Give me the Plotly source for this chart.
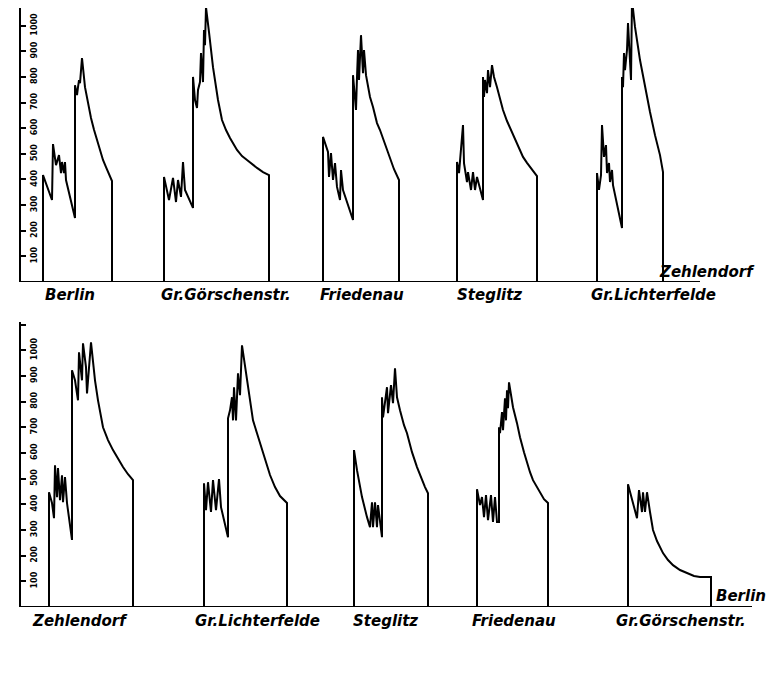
import plotly.graph_objects as go

# ---------------- data (time in arbitrary units, current in Amp.) ----------------
# Upper diagram: Berlin -> Zehlendorf
up1_t = [43, 43, 52, 53, 56, 59, 61, 62, 64, 65, 66, 75, 75, 77, 78, 79, 80, 81, 82, 85, 88, 91, 94, 97, 100, 103, 106, 109, 112, 112]
up1_a = [0, 417, 320, 538, 456, 495, 425, 468, 425, 468, 398, 250, 768, 729, 760, 788, 776, 838, 874, 760, 695, 640, 594, 554, 515, 476, 448, 420, 394, 0]

up2_t = [164, 164, 169, 173, 176, 178, 181, 183, 185, 193, 193, 195, 197, 198, 200, 201, 203, 204, 205, 206, 209, 213, 218, 222, 226, 230, 237, 242, 247, 252, 257, 263, 269, 269]
up2_a = [0, 410, 320, 406, 312, 398, 332, 468, 359, 289, 800, 710, 679, 749, 780, 893, 780, 983, 924, 1072, 975, 838, 710, 632, 593, 562, 515, 491, 476, 460, 445, 429, 417, 0]

up3_t = [323, 323, 328, 329, 331, 333, 335, 337, 340, 341, 343, 353, 353, 355, 356, 357, 358, 359, 361, 363, 364, 366, 370, 373, 377, 380, 384, 387, 390, 394, 399, 399]
up3_a = [0, 566, 507, 410, 503, 398, 464, 371, 320, 437, 359, 242, 807, 710, 671, 800, 905, 788, 963, 815, 905, 807, 722, 683, 620, 593, 550, 515, 480, 440, 398, 0]

up4_t = [457, 457, 459, 463, 464, 467, 468, 471, 473, 475, 477, 483, 483, 484, 485, 487, 488, 490, 492, 494, 497, 500, 503, 507, 510, 514, 517, 520, 523, 527, 530, 533, 537, 537]
up4_a = [0, 468, 425, 612, 464, 390, 429, 359, 429, 359, 410, 320, 800, 722, 788, 737, 827, 760, 846, 800, 760, 712, 671, 628, 601, 568, 542, 514, 488, 465, 449, 430, 413, 0]

up5_t = [597, 597, 599, 601, 602, 604, 606, 607, 609, 610, 612, 613, 622, 622, 623, 624, 625, 627, 628, 629, 631, 632, 635, 640, 645, 650, 655, 660, 663, 663]
up5_a = [0, 425, 359, 417, 612, 488, 534, 425, 464, 390, 437, 378, 211, 800, 760, 893, 827, 905, 1010, 944, 788, 1100, 995, 866, 757, 663, 573, 495, 429, 0]

# Lower diagram: Zehlendorf -> Berlin
lo1_t = [49, 49, 52, 54, 55, 57, 58, 60, 62, 63, 65, 67, 72, 72, 75, 78, 79, 82, 83, 86, 87, 91, 95, 98, 103, 108, 113, 118, 123, 128, 133, 133]
lo1_a = [0, 447, 405, 346, 552, 428, 541, 416, 513, 408, 506, 405, 261, 922, 883, 805, 992, 883, 1027, 934, 832, 1031, 883, 805, 700, 650, 611, 576, 545, 517, 494, 0]

lo2_t = [204, 204, 206, 208, 211, 213, 216, 219, 221, 228, 228, 230, 232, 233, 234, 236, 238, 240, 242, 247, 250, 253, 257, 260, 265, 270, 275, 280, 287, 287]
lo2_a = [0, 482, 377, 486, 370, 494, 377, 498, 389, 272, 735, 766, 817, 727, 856, 727, 910, 825, 1019, 883, 805, 727, 677, 638, 580, 514, 467, 432, 405, 0]

lo3_t = [354, 354, 357, 362, 367, 370, 372, 373, 375, 377, 378, 382, 382, 383, 387, 388, 391, 393, 395, 397, 400, 404, 407, 412, 417, 421, 425, 428, 428]
lo3_a = [0, 611, 533, 428, 350, 311, 408, 311, 408, 311, 397, 272, 817, 739, 856, 755, 864, 794, 930, 817, 766, 708, 677, 603, 545, 502, 467, 443, 0]

lo4_t = [477, 477, 480, 482, 484, 486, 488, 491, 493, 495, 497, 499, 499, 500, 502, 503, 505, 506, 507, 508, 509, 513, 517, 520, 524, 527, 530, 533, 537, 540, 544, 548, 548]
lo4_a = [0, 459, 397, 428, 350, 436, 338, 436, 331, 428, 331, 331, 700, 677, 759, 689, 813, 727, 844, 774, 875, 778, 716, 661, 603, 560, 525, 494, 467, 443, 420, 405, 0]

lo5_t = [628, 628, 637, 639, 642, 643, 645, 647, 650, 653, 657, 663, 668, 673, 680, 687, 694, 700, 711, 711]
lo5_a = [0, 478, 346, 455, 370, 447, 370, 447, 370, 300, 257, 210, 183, 163, 144, 132, 121, 117, 117, 0]

upper_runs = [(up1_t, up1_a), (up2_t, up2_a), (up3_t, up3_a), (up4_t, up4_a), (up5_t, up5_a)]
lower_runs = [(lo1_t, lo1_a), (lo2_t, lo2_a), (lo3_t, lo3_a), (lo4_t, lo4_a), (lo5_t, lo5_a)]

upper_stations = ["Berlin", "Gr.Görschenstr.", "Friedenau", "Steglitz", "Gr.Lichterfelde", "Zehlendorf"]
lower_stations = ["Zehlendorf", "Gr.Lichterfelde", "Steglitz", "Friedenau", "Gr.Görschenstr.", "Berlin"]

tick_values = [0, 100, 200, 300, 400, 500, 600, 700, 800, 900, 1000, 1100]
tick_labels = ["0", "100", "200", "300", "400", "500", "600", "700", "800", "900", "1000", "1100 Amp."]

# ---------------- layout helpers ----------------
# the page body has an 8px margin; figure coordinates are page coordinates minus 8
OFF = 8
W, H = 780 - OFF, 681 - OFF
def py(p):
    return 1 - (p - OFF) / H
def px(p):
    return (p - 21) / (780 - 21)

upper_label_x = [70, 226, 362, 489, 653, 707]
upper_label_y = [295, 295, 295, 295, 295, 272]
lower_label_x = [80, 258, 385, 514, 681, 741]
lower_label_y = [621, 621, 621, 621, 621, 596]

LINE = dict(color="black", width=2)
fig = go.Figure()

for t, a in upper_runs:
    fig.add_trace(go.Scatter(x=t, y=a, mode="lines", line=LINE, xaxis="x", yaxis="y",
                             showlegend=False, hoverinfo="skip", cliponaxis=False))
for t, a in lower_runs:
    fig.add_trace(go.Scatter(x=t, y=a, mode="lines", line=LINE, xaxis="x2", yaxis="y2",
                             showlegend=False, hoverinfo="skip", cliponaxis=False))

yax = dict(showline=True, linecolor="black", linewidth=2, ticks="inside",
           ticklen=5, tickwidth=1.5, tickcolor="black", tickvals=tick_values, ticktext=tick_labels,
           tickangle=-90, ticklabelposition="inside", showgrid=False, zeroline=False,
           tickfont=dict(family="DejaVu Sans", size=8, color="black", weight="bold"))
xax = dict(range=[21, 780], visible=False, showgrid=False, zeroline=False)

fig.update_layout(
    width=W, height=H, paper_bgcolor="white", plot_bgcolor="white",
    margin=dict(l=21 - OFF, r=0, t=0, b=0, autoexpand=False),
    xaxis=dict(**xax, domain=[0, 1], anchor="y"),
    yaxis=dict(**yax, range=[0, 1069], domain=[py(282), 1.0], anchor="x"),
    xaxis2=dict(**xax, domain=[0, 1], anchor="y2"),
    yaxis2=dict(**yax, range=[0, 1110], domain=[py(607), py(322)], anchor="x2"),
)

# baselines
fig.add_shape(type="line", xref="x", yref="y", x0=21, x1=700, y0=0, y1=0, line=LINE)
fig.add_shape(type="line", xref="x2", yref="y2", x0=21, x1=752, y0=0, y1=0, line=LINE)

LABEL_FONT = dict(family="DejaVu Sans", size=15, color="black", weight="bold", style="italic")
for name, lx, ly in zip(upper_stations, upper_label_x, upper_label_y):
    fig.add_annotation(text=name, xref="paper", yref="paper", x=px(lx), y=py(ly),
                       xanchor="center", yanchor="middle", showarrow=False, font=LABEL_FONT)
for name, lx, ly in zip(lower_stations, lower_label_x, lower_label_y):
    fig.add_annotation(text=name, xref="paper", yref="paper", x=px(lx), y=py(ly),
                       xanchor="center", yanchor="middle", showarrow=False, font=LABEL_FONT)

fig.write_html("out.html")
